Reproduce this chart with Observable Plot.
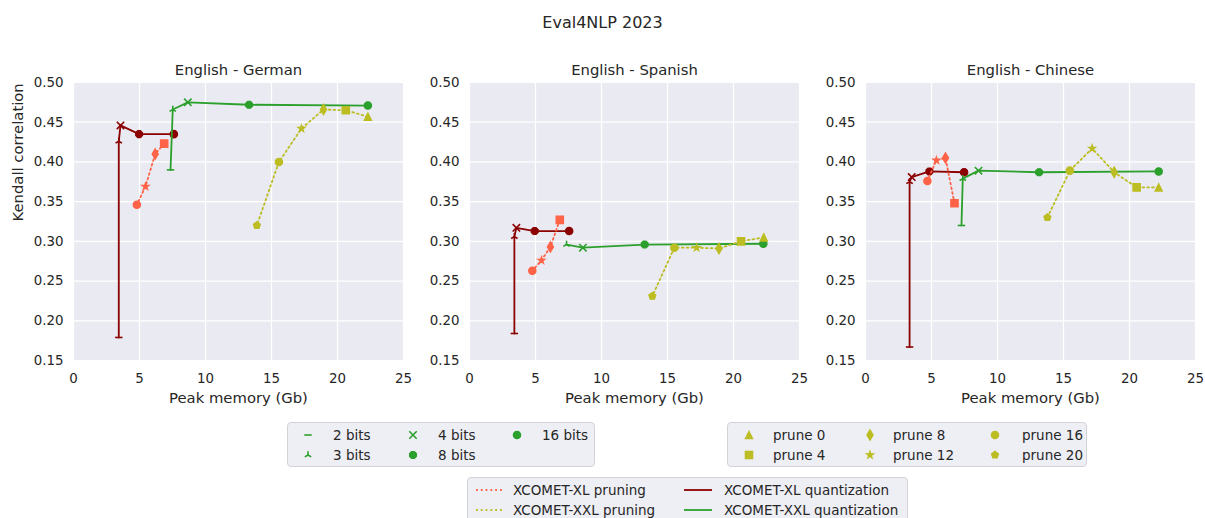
<!DOCTYPE html>
<html><head><meta charset="utf-8">
<script src="https://cdn.jsdelivr.net/npm/d3@7"></script>
<script src="https://cdn.jsdelivr.net/npm/@observablehq/plot@0.6"></script>
<style>
body{margin:0;background:#fff;font-family:"DejaVu Sans",sans-serif;color:#262626}
#root{position:relative;width:1205px;height:518px;overflow:hidden;background:#fff}
.panel{position:absolute;top:50px}
.suptitle{position:absolute;top:13px;left:0;width:1205px;text-align:center;font-size:16px;line-height:20px}
.legend{position:absolute;background:#eeeef5;border:1px solid #d2d2d8;border-radius:4px;box-sizing:border-box;font-size:13.5px}
.lt{position:absolute;white-space:nowrap;line-height:16px;transform:translateY(-50%)}
.lm{position:absolute;overflow:visible}
</style></head>
<body><div id="root"><div class="suptitle">Eval4NLP 2023</div></div>
<script>
const languages = ["English - German", "English - Spanish", "English - Chinese"];
const bitLabels = ["2 bits", "3 bits", "4 bits", "8 bits", "16 bits"];
const pruneLabels = ["prune 0", "prune 4", "prune 8", "prune 12", "prune 16", "prune 20"];
const seriesLabels = ["XCOMET-XL pruning", "XCOMET-XXL pruning", "XCOMET-XL quantization", "XCOMET-XXL quantization"];
const xTicks = [0, 5, 10, 15, 20, 25];
const yTicks = [0.15, 0.20, 0.25, 0.30, 0.35, 0.40, 0.45, 0.50];

// quantization: per language, ordered as bitLabels
const xlQuantMem = [[3.43, 3.43, 3.56, 4.97, 7.60], [3.40, 3.40, 3.55, 4.94, 7.55], [3.34, 3.34, 3.50, 4.84, 7.47]];
const xlQuantKendall = [[0.179, 0.426, 0.446, 0.435, 0.435], [0.184, 0.306, 0.317, 0.313, 0.313], [0.167, 0.375, 0.381, 0.388, 0.387]];
const xxlQuantMem = [[7.35, 7.52, 8.66, 13.30, 22.30], [null, 7.35, 8.59, 13.27, 22.26], [7.27, 7.37, 8.56, 13.15, 22.21]];
const xxlQuantKendall = [[0.390, 0.466, 0.475, 0.472, 0.471], [null, 0.296, 0.292, 0.296, 0.297], [0.320, 0.379, 0.389, 0.387, 0.388]];
// pruning: per language, ordered as pruneLabels
const xlPruneMem = [[null, 6.87, 6.19, 5.45, 4.80, null], [null, 6.84, 6.13, 5.45, 4.76, null], [null, 6.74, 6.06, 5.37, 4.69, null]];
const xlPruneKendall = [[null, 0.423, 0.410, 0.369, 0.346, null], [null, 0.327, 0.293, 0.276, 0.263, null], [null, 0.348, 0.405, 0.402, 0.376, null]];
const xxlPruneMem = [[22.30, 20.63, 18.94, 17.27, 15.56, 13.89], [22.29, 20.57, 18.90, 17.20, 15.52, 13.85], [22.21, 20.54, 18.84, 17.17, 15.48, 13.78]];
const xxlPruneKendall = [[0.457, 0.465, 0.466, 0.442, 0.400, 0.320], [0.305, 0.300, 0.291, 0.292, 0.292, 0.231], [0.368, 0.368, 0.387, 0.417, 0.389, 0.330]];

const colors = {xlPrune: "#ff6347", xxlPrune: "#bcbd22", xlQuant: "#8b0000", xxlQuant: "#2ca02c"};
const ink = "#262626";

// matplotlib-like marker shapes
function sym(fn) { return {draw(c, size) { fn(c, Math.sqrt(size / Math.PI)); }}; }
function poly(c, pts) { pts.forEach((p, i) => i ? c.lineTo(p[0], p[1]) : c.moveTo(p[0], p[1])); c.closePath(); }
function regular(n, r, rot) { return d3.range(n).map(i => { const a = rot + i * 2 * Math.PI / n; return [r * Math.sin(a), -r * Math.cos(a)]; }); }
const S = {
  hline: sym((c, r) => { c.moveTo(-r, 0); c.lineTo(r, 0); }),
  tri: sym((c, r) => { c.moveTo(0, 0); c.lineTo(0, -r); c.moveTo(0, 0); c.lineTo(-0.866 * r, 0.5 * r); c.moveTo(0, 0); c.lineTo(0.866 * r, 0.5 * r); }),
  x: sym((c, r) => { c.moveTo(-r, -r); c.lineTo(r, r); c.moveTo(-r, r); c.lineTo(r, -r); }),
  oct: sym((c, r) => poly(c, regular(8, r, Math.PI / 8))),
  circle: sym((c, r) => { c.moveTo(r, 0); c.arc(0, 0, r, 0, 2 * Math.PI); }),
  tri_up: sym((c, r) => poly(c, [[0, -r], [-r, r], [r, r]])),
  square: sym((c, r) => poly(c, [[-r, -r], [r, -r], [r, r], [-r, r]])),
  thin_diamond: sym((c, r) => poly(c, [[0, -1.414 * r], [0.85 * r, 0], [0, 1.414 * r], [-0.85 * r, 0]])),
  star: sym((c, r) => poly(c, d3.range(10).map(i => { const a = i * Math.PI / 5, rr = i % 2 ? 0.382 * r : r; return [rr * Math.sin(a), -rr * Math.cos(a)]; }))),
  pentagon: sym((c, r) => poly(c, regular(5, r, 0)))
};
const catDomain = [...bitLabels, ...pruneLabels];
const catRange = [S.hline, S.tri, S.x, S.oct, S.circle, S.tri_up, S.square, S.thin_diamond, S.star, S.circle, S.pentagon];
const strokeOnly = new Set(["2 bits", "3 bits", "4 bits"]);
const R = 3.7;

function rows(labels, mem, k) {
  return labels.map((cat, j) => ({cat, mem: mem[j], k: k[j]})).filter(d => d.mem != null);
}
function series(data, color, dotted) {
  return [
    Plot.line(data, {x: "mem", y: "k", stroke: color, strokeWidth: 1.8, strokeDasharray: dotted ? "1.8,3" : null}),
    Plot.dot(data.filter(d => !strokeOnly.has(d.cat)), {x: "mem", y: "k", symbol: "cat", r: R, fill: color, stroke: color, strokeWidth: 1.2}),
    Plot.dot(data.filter(d => strokeOnly.has(d.cat)), {x: "mem", y: "k", symbol: "cat", r: R, fill: "none", stroke: color, strokeWidth: 1.6})
  ];
}

const root = document.getElementById("root");
const plotLefts = [73, 469, 865];
languages.forEach((lang, i) => {
  const xlQ = rows(bitLabels, xlQuantMem[i], xlQuantKendall[i]);
  const xxlQ = rows(bitLabels, xxlQuantMem[i], xxlQuantKendall[i]);
  const xlP = rows(pruneLabels, xlPruneMem[i], xlPruneKendall[i]);
  const xxlP = rows(pruneLabels, xxlPruneMem[i], xxlPruneKendall[i]);
  const chart = Plot.plot({
    width: 410, height: 360, marginLeft: 70, marginRight: 10, marginTop: 32, marginBottom: 50,
    style: {fontFamily: "DejaVu Sans", fontSize: "13.2px", color: ink, background: "transparent", overflow: "visible"},
    x: {domain: [0, 25]},
    y: {domain: [0.15, 0.5]},
    symbol: {domain: catDomain, range: catRange},
    marks: [
      Plot.frame({fill: "#eaeaf2", stroke: null}),
      Plot.gridX(xTicks, {stroke: "#fff", strokeOpacity: 1, strokeWidth: 1.2}),
      Plot.gridY(yTicks, {stroke: "#fff", strokeOpacity: 1, strokeWidth: 1.2}),
      Plot.axisX(xTicks, {tickSize: 0, tickPadding: 13, label: null, fontSize: 13.4, fill: ink}),
      Plot.axisY(yTicks, {tickSize: 0, tickPadding: 10, label: null, tickFormat: d3.format(".2f"), fontSize: 13.4, fill: ink}),
      Plot.text([lang], {frameAnchor: "top", dy: -18, fontSize: 14.8, fill: ink}),
      Plot.text(["Peak memory (Gb)"], {frameAnchor: "bottom", dy: 42, fontSize: 14.8, fill: ink}),
      i === 0 ? Plot.text(["Kendall correlation"], {frameAnchor: "left", dx: -55, rotate: -90, fontSize: 14.8, fill: ink}) : null,
      ...series(xlQ, colors.xlQuant, false),
      ...series(xxlQ, colors.xxlQuant, false),
      ...series(xlP, colors.xlPrune, true),
      ...series(xxlP, colors.xxlPrune, true)
    ]
  });
  chart.classList.add("panel");
  chart.style.left = (plotLefts[i] - 70) + "px";
  root.appendChild(chart);
});

// legends
function markerSvg(symbol, color, filled) {
  const p = d3.path();
  symbol.draw(p, Math.PI * R * R);
  return `<svg width="20" height="20" viewBox="-10 -10 20 20"><path d="${p}" fill="${filled ? color : "none"}" stroke="${color}" stroke-width="${filled ? 1.2 : 1.6}"/></svg>`;
}
function legendBox(left, top, width, height, items) {
  const box = document.createElement("div");
  box.className = "legend";
  Object.assign(box.style, {left: left + "px", top: top + "px", width: width + "px", height: height + "px"});
  items.forEach(it => {
    const m = document.createElement("div");
    m.className = "lm";
    Object.assign(m.style, {left: (it.mx - 10) + "px", top: (it.y - 10) + "px", width: "20px", height: "20px"});
    m.innerHTML = it.marker;
    box.appendChild(m);
    const t = document.createElement("div");
    t.className = "lt";
    Object.assign(t.style, {left: it.tx + "px", top: it.y + "px"});
    t.textContent = it.label;
    box.appendChild(t);
  });
  root.appendChild(box);
}
const rowsY = [12, 32];
const bitCols = [[19.5, 45], [124.5, 150], [229, 254]];
legendBox(287, 422, 308, 45, bitLabels.map((b, j) => {
  const col = bitCols[Math.floor(j / 2)];
  const idx = catDomain.indexOf(b);
  return {label: b, mx: col[0], tx: col[1], y: rowsY[j % 2], marker: markerSvg(catRange[idx], colors.xxlQuant, !strokeOnly.has(b))};
}));
const pruneCols = [[21, 45], [142, 165], [267, 294]];
legendBox(727, 422, 360, 45, pruneLabels.map((b, j) => {
  const col = pruneCols[Math.floor(j / 2)];
  const idx = catDomain.indexOf(b);
  return {label: b, mx: col[0], tx: col[1], y: rowsY[j % 2], marker: markerSvg(catRange[idx], colors.xxlPrune, true)};
}));
function lineSvg(color, dotted) {
  return `<svg width="30" height="20" viewBox="0 -10 30 20"><line x1="1" x2="29" y1="0" y2="0" stroke="${color}" stroke-width="1.8" ${dotted ? 'stroke-dasharray="1.8,3"' : ""}/></svg>`;
}
const seriesCols = [[22, 45], [230, 256]];
const seriesColors = [colors.xlPrune, colors.xxlPrune, colors.xlQuant, colors.xxlQuant];
legendBox(467, 477, 441, 50, seriesLabels.map((s, j) => {
  const col = seriesCols[Math.floor(j / 2)];
  return {label: s, mx: col[0] - 5, tx: col[1], y: rowsY[j % 2], marker: lineSvg(seriesColors[j], j < 2)};
}));
</script></body></html>
